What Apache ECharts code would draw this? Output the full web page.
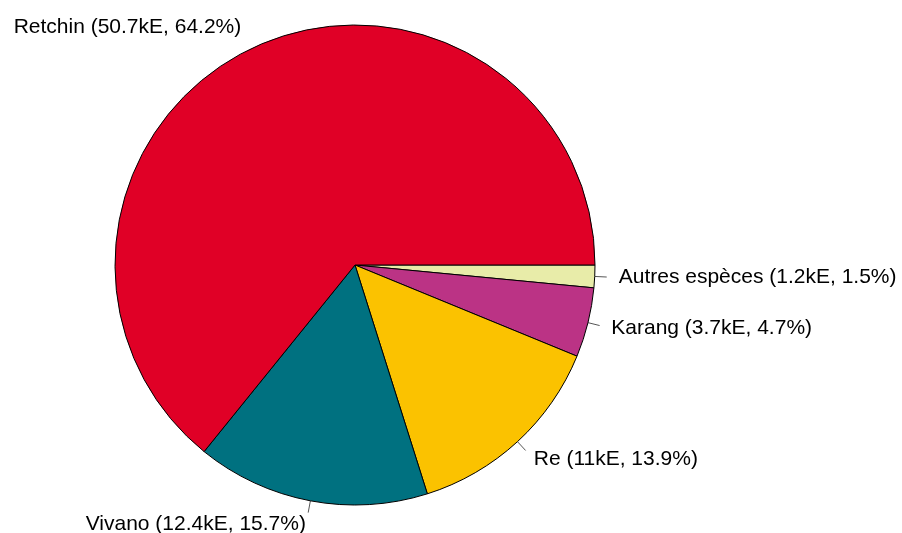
<!DOCTYPE html>
<html>
<head>
<meta charset="utf-8">
<script src="https://cdn.jsdelivr.net/npm/echarts@6/dist/echarts.min.js"></script>
<style>
  html, body { margin: 0; padding: 0; background: #fff; }
  #chart { width: 902px; height: 533px; }
</style>
</head>
<body>
<div id="chart"></div>
<script>
// slices in drawing order, clockwise from 3 o'clock
const names = ['Autres espèces', 'Karang', 'Re', 'Vivano', 'Retchin']
const values = [1.2, 3.7, 11, 12.4, 50.7] // kE
const colors = ['#E8ECA9', '#BB3385', '#FBC200', '#007180', '#E00026']

const chart = echarts.init(document.getElementById('chart'))
const common = {
  type: 'pie',
  center: [355, 265],
  radius: 240,
  startAngle: 0,
  clockwise: true,
  avoidLabelOverlap: false,
  emphasis: { disabled: true },
  silent: true
}
chart.setOption({
  animation: false,
  series: [
    // slices + labels at 1.1r (line hidden)
    Object.assign({}, common, {
      itemStyle: { borderColor: '#000', borderWidth: 1 },
      label: {
        position: 'outside',
        fontFamily: 'Liberation Sans, Arial',
        fontSize: 21,
        color: '#000',
        distanceToLabelLine: 0,
        formatter: p => p.name + ' (' + p.value + 'kE, ' + p.percent.toFixed(1) + '%)'
      },
      labelLine: { show: true, length: 24, length2: 0, lineStyle: { opacity: 0 } },
      data: names.map((n, i) => ({ name: n, value: values[i], itemStyle: { color: colors[i] } }))
    }),
    // short tick lines r -> 1.05r
    Object.assign({}, common, {
      itemStyle: { color: 'transparent', borderWidth: 0 },
      label: { position: 'outside', formatter: ' ', fontSize: 1 },
      labelLine: { show: true, length: 12, length2: 0, lineStyle: { color: '#555', width: 1 } },
      data: names.map((n, i) => ({ name: n, value: values[i] }))
    })
  ]
})
</script>
</body>
</html>
